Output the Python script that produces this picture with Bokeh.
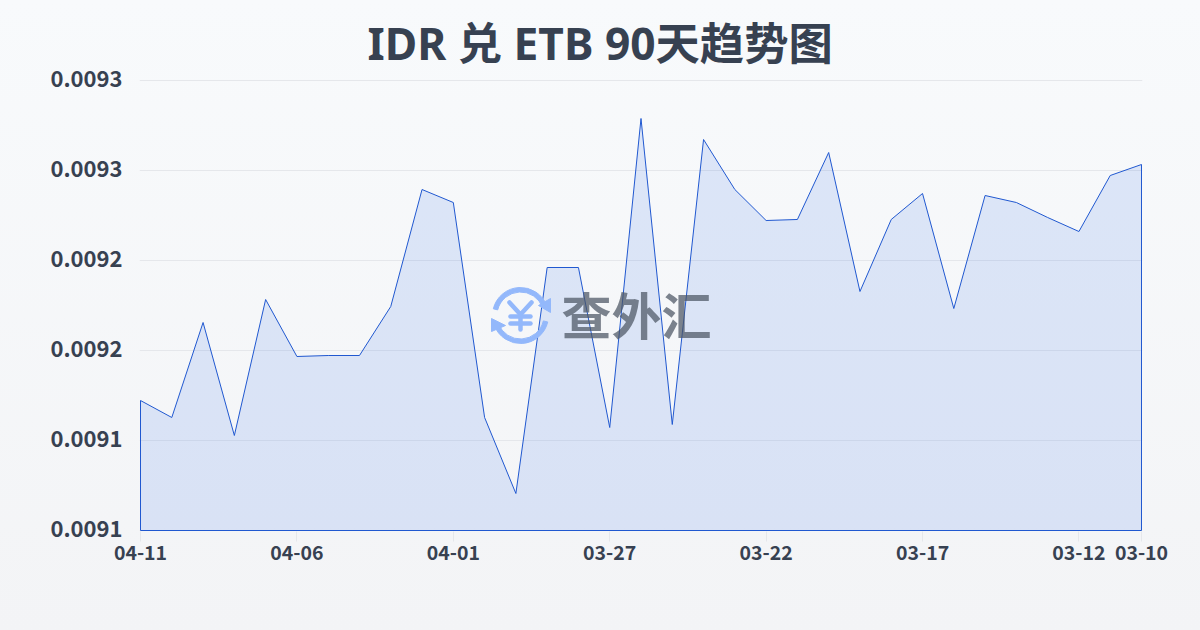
from bokeh.plotting import figure
from bokeh.models import Range1d, FixedTicker
from bokeh.embed import file_html
from bokeh.resources import INLINE
from bokeh.core.properties import value

FONT = "Noto Sans CJK SC"
TITLE_FONT = "Noto Sans, Noto Sans CJK SC"

dates = ["04-11","04-10","04-09","04-08","04-07","04-06","04-05","04-04","04-03","04-02","04-01",
         "03-31","03-30","03-29","03-28","03-27","03-26","03-25","03-24","03-23","03-22",
         "03-21","03-20","03-19","03-18","03-17","03-16","03-15","03-14","03-13","03-12","03-11","03-10"]
rates = [0.00917222,0.00916278,0.00921556,0.00915278,0.00922833,0.00919667,0.00919722,0.00919722,
         0.00922444,0.00928944,0.00928222,0.00916278,0.00912056,0.00924611,0.00924611,0.00915722,
         0.00932889,0.00915889,0.00931722,0.00928944,0.00927222,0.00927278,0.00931000,0.00923278,
         0.00927278,0.00928722,0.00922333,0.00928611,0.00928222,0.00927389,0.00926611,0.00929722,0.00930333]
shown_dates = ["04-11","04-06","04-01","03-27","03-22","03-17","03-12","03-10"]
y_ticks = [0.00910,0.00915,0.00920,0.00925,0.00930,0.00935]
y_labels = ["0.0091","0.0091","0.0092","0.0092","0.0093","0.0093"]
title = "IDR 兑 ETB 90天趋势图"

y_min, y_max = y_ticks[0], y_ticks[-1]
xs = list(range(len(dates)))
# frame is slightly larger than the plot area so the outline and top label are not clipped
dx = (len(dates)-1) / 1000.5
dy = (y_max - y_min) / 450

p = figure(width=1200, height=630, output_backend="svg", toolbar_location=None,
           x_range=Range1d(-dx, len(dates)-1+dx), y_range=Range1d(y_min-dy, y_max+4*dy),
           min_border_left=139, min_border_right=58, min_border_top=76, min_border_bottom=99,
           title=title)
p.styles = {"position":"absolute","left":"0","top":"0",
            "background":"linear-gradient(180deg,#f8fafc 0%,#f3f4f6 100%)"}
p.background_fill_alpha = 0
p.border_fill_alpha = 0
p.outline_line_alpha = 0
p.xgrid.visible = False
p.ygrid.ticker = FixedTicker(ticks=y_ticks)
p.ygrid.grid_line_color = "#e5e7eb"
p.ygrid.grid_line_width = 1

p.title.align = "left"
p.title.offset = 228
p.title.text_font = TITLE_FONT
p.title.text_font_size = "44.3px"
p.title.text_font_style = "bold"
p.title.text_color = "#374151"
p.title.standoff = 7

p.patch(xs + [xs[-1], xs[0]], rates + [y_min, y_min],
        fill_color="#2563eb", fill_alpha=0.13, line_color="#2058d0", line_width=1)

ax = p.xaxis[0]
ax.ticker = FixedTicker(ticks=[dates.index(d) for d in shown_dates])
ax.major_label_overrides = {dates.index(d): d for d in shown_dates}
ax.axis_line_alpha = 0
ax.major_tick_line_color = "#e5e7eb"
ax.major_tick_in = 0
ax.major_tick_out = 10
ax.minor_tick_line_alpha = 0
ax.major_label_text_font = FONT
ax.major_label_text_font_size = "19.5px"
ax.major_label_text_font_style = "bold"
ax.major_label_text_color = "#374151"
ax.major_label_standoff = 3

# the y labels sit 2px above their gridlines: axis on its own slightly shifted range
p.extra_y_ranges["labels"] = Range1d(y_min - 3*dy, y_max + 2*dy)
ay = p.yaxis[0]
ay.y_range_name = "labels"
ay.ticker = FixedTicker(ticks=y_ticks)
ay.major_label_overrides = dict(zip(y_ticks, y_labels))
ay.axis_line_alpha = 0
ay.major_tick_line_alpha = 0
ay.minor_tick_line_alpha = 0
ay.major_label_text_font = FONT
ay.major_label_text_font_size = "22px"
ay.major_label_text_font_style = "bold"
ay.major_label_text_color = "#374151"
ay.major_label_standoff = 11

# pixel-space ranges for the watermark
p.extra_x_ranges["px"] = Range1d(139, 1142)
p.extra_y_ranges["px"] = Range1d(531, 76)
LOGO = "#93b8fb"
PX = dict(x_range_name="px", y_range_name="px")
p.annular_wedge(x=[520, 520], y=[315, 315], inner_radius=23.5, outer_radius=28,
                inner_radius_units="screen", outer_radius_units="screen",
                start_angle=[0.35, 3.5], end_angle=[2.9, 6.05], color=LOGO, **PX)
p.patch([538, 550, 550], [305, 298, 312], color=LOGO, **PX)
p.patch([505, 491, 491], [325, 318, 331], color=LOGO, **PX)
p.multi_line(xs=[[509, 520, 531], [520, 520], [510, 530], [510, 530]],
             ys=[[302, 314, 302], [314, 329], [316, 316], [323, 323]],
             line_color=LOGO, line_width=4.5, line_cap="round", **PX)
p.text(x=[636], y=[312], text=["查外汇"], text_font=value(FONT), text_font_size="50px",
       text_font_style="bold", text_color="#4b5563", text_alpha=0.72,
       text_align="center", text_baseline="middle", **PX)

open("out.html", "w").write(file_html(p, INLINE))
